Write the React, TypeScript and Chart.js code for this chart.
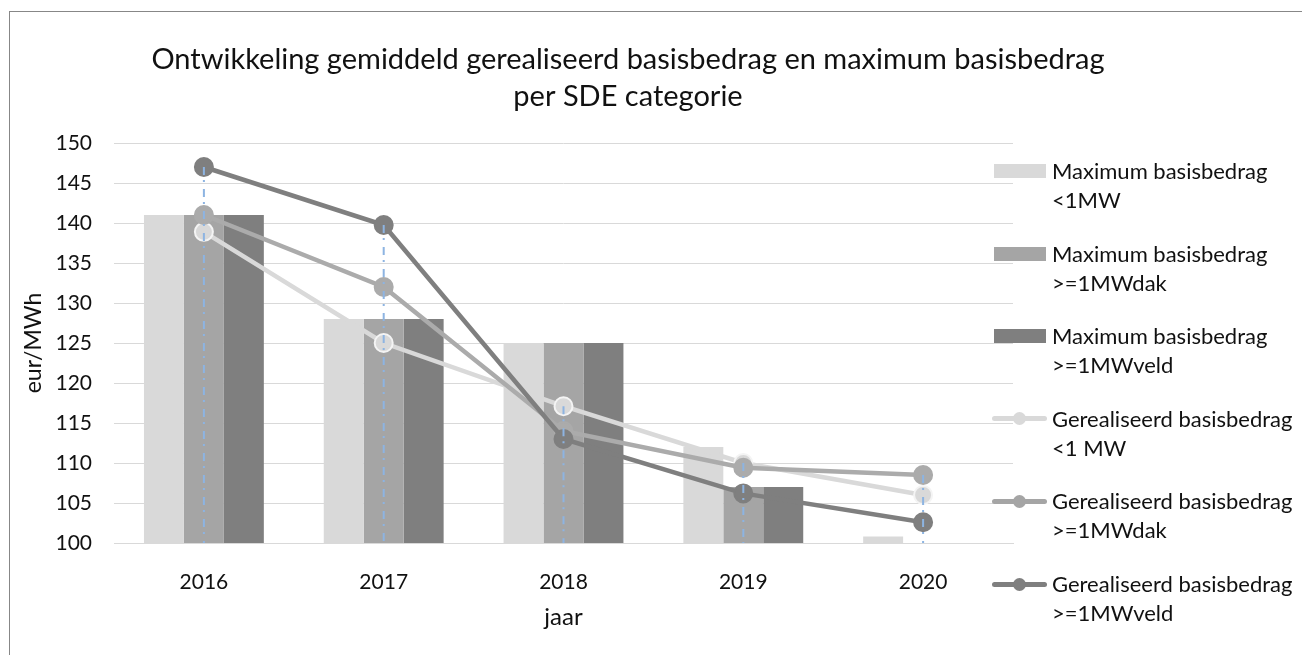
import React, { useEffect, useRef } from 'react';
import { Chart, registerables } from 'chart.js';

Chart.register(...registerables);

const categories = ['2016', '2017', '2018', '2019', '2020'];
const maxSmall: (number | null)[] = [141, 128, 125, 112, 100.8];
const maxDak: (number | null)[] = [141, 128, 125, 107, null];
const maxVeld: (number | null)[] = [141, 128, 125, 107, null];
const realSmall = [138.9, 125, 117.1, 110, 106];
const realDak = [141, 132, 114, 109.4, 108.5];
const realVeld = [147, 139.75, 113, 106.2, 102.6];
const yTicks = [100, 105, 110, 115, 120, 125, 130, 135, 140, 145, 150];

const titleLines = ['Ontwikkeling gemiddeld gerealiseerd basisbedrag en maximum basisbedrag', 'per SDE categorie'];
const legendItems = [
  { l1: 'Maximum basisbedrag', l2: '<1MW', kind: 'bar', color: '#d9d9d9' },
  { l1: 'Maximum basisbedrag', l2: '>=1MWdak', kind: 'bar', color: '#a5a5a5' },
  { l1: 'Maximum basisbedrag', l2: '>=1MWveld', kind: 'bar', color: '#7f7f7f' },
  { l1: 'Gerealiseerd basisbedrag', l2: '<1 MW', kind: 'line', color: '#d9d9d9' },
  { l1: 'Gerealiseerd basisbedrag', l2: '>=1MWdak', kind: 'line', color: '#a5a5a5' },
  { l1: 'Gerealiseerd basisbedrag', l2: '>=1MWveld', kind: 'line', color: '#7f7f7f' },
];

const FONT = 'Lato, "Noto Sans", sans-serif';
const TEXT = '#111111';

const dropLines = {
  id: 'dropLines',
  afterDatasetsDraw(chart: any) {
    const { ctx, chartArea, scales } = chart;
    const lines = [realSmall, realDak, realVeld];
    ctx.save();
    ctx.strokeStyle = '#8db4e2';
    ctx.lineWidth = 2;
    ctx.setLineDash([8, 5, 2, 7]);
    categories.forEach((_, i) => {
      const top = Math.max(...lines.map((s) => s[i]));
      const x = scales.x.getPixelForValue(i);
      const y = scales.y.getPixelForValue(top);
      ctx.beginPath();
      ctx.moveTo(x, y);
      ctx.lineTo(x, chartArea.bottom);
      ctx.stroke();
    });
    ctx.restore();
  },
};

export default function App() {
  const ref = useRef<HTMLCanvasElement>(null);
  useEffect(() => {
    if (!ref.current) return;
    const lineDs = (label: string, data: number[], color: string, border: string, order: number) => ({
      type: 'line' as const,
      label,
      data,
      borderColor: color,
      backgroundColor: color,
      borderWidth: 4.5,
      pointRadius: 9,
      pointBorderWidth: 2,
      pointBackgroundColor: color,
      pointBorderColor: border,
      tension: 0,
      order,
    });
    const barDs = (label: string, data: (number | null)[], color: string) => ({
      type: 'bar' as const,
      label,
      data,
      backgroundColor: color,
      borderWidth: 0,
      categoryPercentage: 0.6667,
      barPercentage: 1,
      order: 10,
    });
    const chart = new Chart(ref.current, {
      data: {
        labels: categories,
        datasets: [
          barDs('Maximum basisbedrag <1MW', maxSmall, '#d9d9d9'),
          barDs('Maximum basisbedrag >=1MWdak', maxDak, '#a5a5a5'),
          barDs('Maximum basisbedrag >=1MWveld', maxVeld, '#7f7f7f'),
          lineDs('Gerealiseerd basisbedrag <1 MW', realSmall, '#d9d9d9', '#f4f4f4', 3),
          lineDs('Gerealiseerd basisbedrag >=1MWdak', realDak, '#ababab', '#ababab', 2),
          lineDs('Gerealiseerd basisbedrag >=1MWveld', realVeld, '#7f7f7f', '#7f7f7f', 1),
        ] as any,
      },
      options: {
        animation: false,
        responsive: false,
        maintainAspectRatio: false,
        layout: { padding: { left: 0, right: 0, top: 0, bottom: 0 } },
        plugins: {
          legend: { display: false },
          tooltip: { enabled: false },
          title: {
            display: true,
            text: titleLines,
            color: TEXT,
            font: { family: FONT, size: 29, weight: 'normal', lineHeight: 1.276 },
            padding: { top: 33, bottom: 28 },
          },
        },
        scales: {
          x: {
            type: 'category',
            grid: { display: false },
            border: { display: true, color: '#d9d9d9', width: 1 },
            ticks: { color: TEXT, font: { family: FONT, size: 21 }, padding: 19 },
            title: {
              display: true,
              text: 'jaar',
              color: TEXT,
              font: { family: FONT, size: 24 },
              padding: { top: 0, bottom: 23 },
            },
            afterFit: (s: any) => { s.height = 112; },
          },
          y: {
            type: 'linear',
            min: 100,
            max: 150,
            afterBuildTicks: (s: any) => { s.ticks = yTicks.map((v) => ({ value: v })); },
            grid: { color: '#d9d9d9', lineWidth: 1, drawTicks: false },
            border: { display: false },
            ticks: { color: TEXT, font: { family: FONT, size: 21 }, padding: 22 },
            title: {
              display: true,
              text: 'eur/MWh',
              color: TEXT,
              font: { family: FONT, size: 23 },
              padding: { top: 12, bottom: 0 },
            },
            afterFit: (s: any) => { s.width = 106; },
          },
          spacer: {
            type: 'linear',
            position: 'right',
            display: true,
            grid: { display: false, drawTicks: false },
            border: { display: false },
            ticks: { display: false },
            afterFit: (s: any) => { s.width = 235; },
          },
        },
      },
      plugins: [dropLines],
    });
    return () => chart.destroy();
  }, []);

  return (
    <div style={{ position: 'relative', width: 1302, height: 647, fontFamily: FONT, color: TEXT }}>
      <div style={{ position: 'absolute', left: 1, top: 3, right: -20, bottom: -20, borderLeft: '1px solid #878787', borderTop: '1px solid #878787' }} />
      <canvas ref={ref} width={1240} height={647} style={{ position: 'absolute', left: 0, top: 0, width: 1240, height: 647 }} />
      {legendItems.map((it, k) => {
        const top = 148 + k * 82.6;
        return (
          <div key={k} style={{ position: 'absolute', left: 984, top, width: 320, height: 58 }}>
            {it.kind === 'bar' ? (
              <div style={{ position: 'absolute', left: 2, top: 8, width: 52, height: 14, background: it.color }} />
            ) : (
              <>
                <div style={{ position: 'absolute', left: 0, top: 12.5, width: 55, height: 5, borderRadius: 2.5, background: it.color }} />
                <div style={{ position: 'absolute', left: 21, top: 8.5, width: 13, height: 13, borderRadius: '50%', background: it.color }} />
              </>
            )}
            <div style={{ position: 'absolute', left: 60, top: 0, fontSize: 22, lineHeight: '29px', whiteSpace: 'nowrap' }}>
              <div>{it.l1}</div>
              <div>{it.l2}</div>
            </div>
          </div>
        );
      })}
    </div>
  );
}
